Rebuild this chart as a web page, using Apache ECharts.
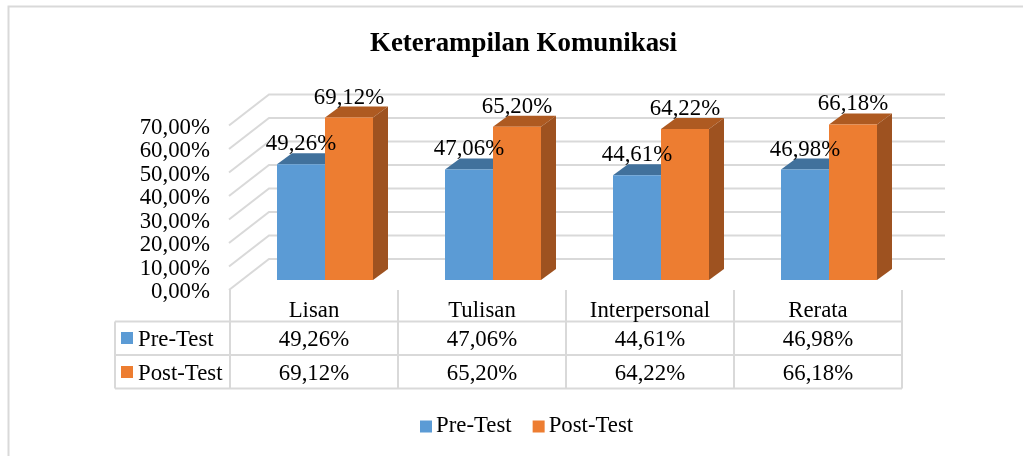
<!DOCTYPE html>
<html>
<head>
<meta charset="utf-8">
<script src="https://cdn.jsdelivr.net/npm/echarts@6/dist/echarts.min.js"></script>
<style>
html,body{margin:0;padding:0;background:#fff;}
#main{width:1023px;height:456px;}
</style>
</head>
<body>
<div id="main"></div>
<script>
var categories = ['Lisan', 'Tulisan', 'Interpersonal', 'Rerata'];
var preTest = [49.26, 47.06, 44.61, 46.98];
var postTest = [69.12, 65.20, 64.22, 66.18];
var yTicks = [0, 10, 20, 30, 40, 50, 60, 70];
var seriesNames = ['Pre-Test', 'Post-Test'];
var seriesColors = ['#5b9bd5', '#ed7d31'];
var topColors = ['#41719c', '#ae5a21'];
var sideColors = ['#3b6a94', '#9e5220'];

var FONT = '"Liberation Serif", serif';
var fontSize = 22.8;
var gridLeft = 230, gridRight = 902, gridTop = 125.5, gridBottom = 290;
var wallDx = 40, wallDy = 31;      // depth of the back wall
var barDx = 11, barDy = 10;        // bar front sits this far into the depth
var barDepthX = 15, barDepthY = 11;
var barW = 48;
var lineColor = '#d9d9d9';
var tableRows = [321.5, 355, 388.5];  // horizontal table lines
var tableLeft = 115;

function fmt(v) {
    return v.toFixed(2).replace('.', ',') + '%';
}

function poly(points, fill) {
    return {type: 'polygon', shape: {points: points}, style: {fill: fill}};
}

function wallItem(params, api) {
    var p = api.coord([0, api.value(0)]);
    var x0 = gridLeft - 1, x1 = gridRight + 3;
    return {
        type: 'polyline',
        shape: {points: [[x0, p[1]], [x0 + wallDx, p[1] - wallDy], [x1 + wallDx, p[1] - wallDy]]},
        style: {fill: null, stroke: lineColor, lineWidth: 2}
    };
}

function barItem(idx) {
    return function (params, api) {
        var c = api.coord([api.value(0), 0]);
        var t = api.coord([api.value(0), api.value(1)]);
        var l = c[0] + barDx + (idx === 0 ? -barW : 0);
        var r = l + barW;
        var b = c[1] - barDy, h = t[1] - barDy;
        var dx = barDepthX, dy = barDepthY;
        return {
            type: 'group',
            children: [
                poly([[l, h], [r, h], [r + dx, h - dy], [l + dx, h - dy]], topColors[idx]),
                poly([[r, b], [r + dx, b - dy], [r + dx, h - dy], [r, h]], sideColors[idx]),
                poly([[l, b], [r, b], [r, h], [l, h]], seriesColors[idx])
            ]
        };
    };
}

function labelItem(idx) {
    return function (params, api) {
        var t = api.coord([api.value(0), api.value(1)]);
        var l = t[0] + barDx + (idx === 0 ? -barW : 0);
        return {
            type: 'text',
            style: {
                x: l + barW / 2, y: t[1] - barDy - 20,
                text: fmt(api.value(1)),
                font: fontSize + 'px ' + FONT,
                fill: '#000', align: 'center', verticalAlign: 'middle'
            }
        };
    };
}

// table cells under each category, x comes from the category scale
function cellItem(params, api) {
    var i = api.value(0);
    var c = api.coord([i, 0]);
    var half = (gridRight - gridLeft) / categories.length / 2;
    var texts = [categories[i], fmt(preTest[i]), fmt(postTest[i])];
    var ys = [311.5, 340.5, 374];
    var children = texts.map(function (s, k) {
        return {
            type: 'text',
            style: {
                x: c[0], y: ys[k], text: s,
                font: fontSize + 'px ' + FONT,
                fill: '#000', align: 'center', verticalAlign: 'middle'
            }
        };
    });
    children.push({
        type: 'line',
        shape: {x1: c[0] + half, y1: gridBottom, x2: c[0] + half, y2: tableRows[2]},
        style: {stroke: lineColor, lineWidth: 2}
    });
    return {type: 'group', children: children};
}

var graphicEls = [
    // outer frame, open at the right and the bottom like the source crop
    {type: 'polyline', shape: {points: [[8.5, 456], [8.5, 6.5], [1023, 6.5]]},
     style: {fill: null, stroke: lineColor, lineWidth: 2}, silent: true},
    {type: 'line', shape: {x1: gridLeft, y1: gridBottom, x2: gridLeft, y2: tableRows[2]},
     style: {stroke: lineColor, lineWidth: 2}, silent: true},
    {type: 'line', shape: {x1: tableLeft, y1: tableRows[0], x2: tableLeft, y2: tableRows[2]},
     style: {stroke: lineColor, lineWidth: 2}, silent: true}
];
tableRows.forEach(function (y) {
    graphicEls.push({type: 'line', shape: {x1: tableLeft, y1: y, x2: gridRight, y2: y},
        style: {stroke: lineColor, lineWidth: 2}, silent: true});
});
seriesNames.forEach(function (name, k) {
    var y = [338, 372][k];
    graphicEls.push({type: 'rect', shape: {x: 121, y: y - 6, width: 12, height: 12},
        style: {fill: seriesColors[k]}, silent: true});
    graphicEls.push({type: 'text', x: 138, y: y + 2,
        style: {text: name, font: fontSize + 'px ' + FONT, fill: '#000', verticalAlign: 'middle'}, silent: true});
});

var chart = echarts.init(document.getElementById('main'));
chart.setOption({
    animation: false,
    backgroundColor: '#fff',
    title: {
        text: 'Keterampilan Komunikasi',
        left: 365,
        top: 26,
        textStyle: {fontFamily: FONT, fontSize: 26.9, fontWeight: 'bold', color: '#000'}
    },
    legend: {
        data: seriesNames,
        left: 415,
        top: 410,
        itemWidth: 12,
        itemHeight: 12,
        itemGap: 21,
        icon: 'rect',
        textStyle: {fontFamily: FONT, fontSize: fontSize, color: '#000', padding: [0, 0, 0, -1]}
    },
    grid: {left: gridLeft, right: 1023 - gridRight, top: gridTop, height: gridBottom - gridTop},
    xAxis: {
        type: 'category',
        data: categories,
        axisLine: {show: false},
        axisTick: {show: false},
        axisLabel: {show: false},
        splitLine: {show: false}
    },
    yAxis: {
        type: 'value',
        min: 0,
        max: 70,
        interval: 10,
        axisLine: {show: false},
        axisTick: {show: false},
        splitLine: {show: false},
        axisLabel: {
            margin: 20,
            color: '#000',
            formatter: function (v) { return '{a|' + fmt(v) + '}'; },
            rich: {
                a: {fontFamily: FONT, fontSize: fontSize, color: '#000', padding: [5, 0, 0, 0]}
            }
        }
    },
    graphic: graphicEls,
    series: [
        {type: 'custom', name: 'wall', silent: true, clip: false, z: 1, renderItem: wallItem,
         data: yTicks.map(function (v) { return [v]; }), encode: {y: 0}},
        {type: 'custom', name: seriesNames[0], silent: true, clip: false, z: 2, renderItem: barItem(0),
         itemStyle: {color: seriesColors[0]},
         data: preTest.map(function (v, i) { return [i, v]; }), encode: {x: 0, y: 1}},
        {type: 'custom', name: seriesNames[1], silent: true, clip: false, z: 3, renderItem: barItem(1),
         itemStyle: {color: seriesColors[1]},
         data: postTest.map(function (v, i) { return [i, v]; }), encode: {x: 0, y: 1}},
        {type: 'custom', name: 'preLabel', silent: true, clip: false, z: 5, renderItem: labelItem(0),
         data: preTest.map(function (v, i) { return [i, v]; }), encode: {x: 0, y: 1}},
        {type: 'custom', name: 'postLabel', silent: true, clip: false, z: 5, renderItem: labelItem(1),
         data: postTest.map(function (v, i) { return [i, v]; }), encode: {x: 0, y: 1}},
        {type: 'custom', name: 'table', silent: true, clip: false, z: 5, renderItem: cellItem,
         data: categories.map(function (c, i) { return [i]; }), encode: {x: 0}}
    ]
});
</script>
</body>
</html>
